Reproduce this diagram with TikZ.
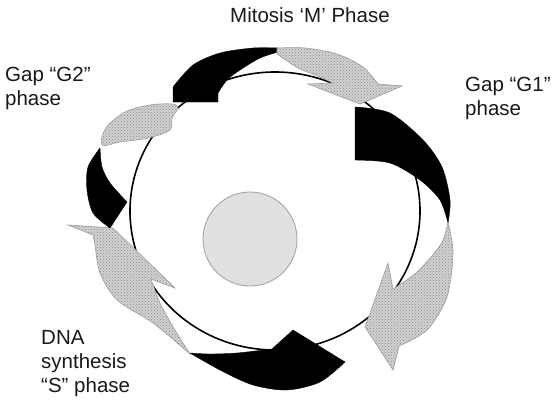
\documentclass[tikz,border=0pt]{standalone}
\usepackage{fontspec}
\setmainfont{Liberation Sans}
\usetikzlibrary{patterns}
\tikzset{
  blackband/.style={fill=black, draw=black, line width=0.4pt, line join=round},
  grayarrow/.style={fill=gray!36, draw=gray!75, line width=0.6pt, line join=miter,
    postaction={pattern=crosshatch dots, pattern color=gray!90}},
  cellline/.style={draw=black, line width=1.6pt},
  nucleus/.style={fill=gray!24, draw=gray!75, line width=0.8pt},
  lbl/.style={font=\fontsize{20.5}{24}\selectfont, inner sep=0pt, anchor=north west, align=left, text=black!90}
}
\begin{document}
\begin{tikzpicture}[x=1pt,y=-1pt]
\useasboundingbox[fill=white] (0,0) rectangle (556,402);

% cell outline
\draw[cellline] (275,211) ellipse [x radius=145pt, y radius=139pt];
% nucleus
\draw[nucleus] (250,239) circle [radius=47pt];

% M phase: black band + gray arrow
\path[blackband] (173,102) -- (173,87)
  -- plot[smooth] coordinates {(173,87) (193,65) (220,53) (253,48) (278,48)}
  -- plot[smooth] coordinates {(278,52) (260,58) (240,70) (227,80) (218,93)}
  -- (218,102) -- cycle;
\path[grayarrow] (277,48)
  -- plot[smooth] coordinates {(277,48) (305,48) (337,54) (363,67) (378,84)}
  -- (402,86) -- (360,104) -- (308,84) -- (333,83)
  -- plot[smooth] coordinates {(333,83) (318,76) (298,68) (277,54)}
  -- cycle;

% G1 phase
\path[blackband] (355,107) -- (355,160)
  -- plot[smooth] coordinates {(355,160) (390,163) (420,180) (440,200) (448,223)}
  -- plot[smooth] coordinates {(448,223) (450,200) (442,167) (423,140) (390,113) (355,107)}
  -- cycle;
\path[grayarrow] (448,222)
  -- plot[smooth] coordinates {(448,222) (453,253) (447,297) (427,330) (399,346)}
  -- (393,370) -- (365,327) -- (388,263) -- (393,289)
  -- plot[smooth] coordinates {(393,289) (417,272) (441,244) (448,222)}
  -- cycle;

% S phase
\path[blackband] (345,362) -- (293,330) -- (272,349)
  -- plot[smooth] coordinates {(272,349) (237,353) (210,354) (190,353)}
  -- plot[smooth] coordinates {(190,353) (220,370) (253,385) (287,390) (320,382) (345,362)}
  -- cycle;
\path[grayarrow] (190,354)
  -- plot[smooth] coordinates {(190,354) (153,323) (117,300) (100,273) (95,245) (93,235)}
  -- (68,225) -- (113,228) -- (175,288) -- (151,279)
  -- plot[smooth] coordinates {(151,279) (160,303) (175,330) (190,354)}
  -- cycle;

% G2 phase
\path[blackband] (110,228)
  -- plot[smooth] coordinates {(110,228) (93,213) (87,190) (88,167) (100,148)}
  -- plot[smooth] coordinates {(100,148) (102,167) (110,183) (127,202)}
  -- cycle;
\path[grayarrow] plot[smooth cycle, tension=0.55] coordinates
  {(102,145) (106,128) (125,112) (150,105) (172,104) (178,108) (172,118) (170,130) (148,138) (120,142)};

% labels
\node[lbl] (mlabel) at (230,7.3) {Mitosis ‘M’ Phase};
\node[lbl] (g1label) at (465,77.3) {Gap “G1”\\phase};
\node[lbl] (g2label) at (5,67.3) {Gap “G2”\\phase};
\node[lbl] (slabel) at (41,330.3) {DNA\\synthesis\\“S” phase};
\end{tikzpicture}
\end{document}
